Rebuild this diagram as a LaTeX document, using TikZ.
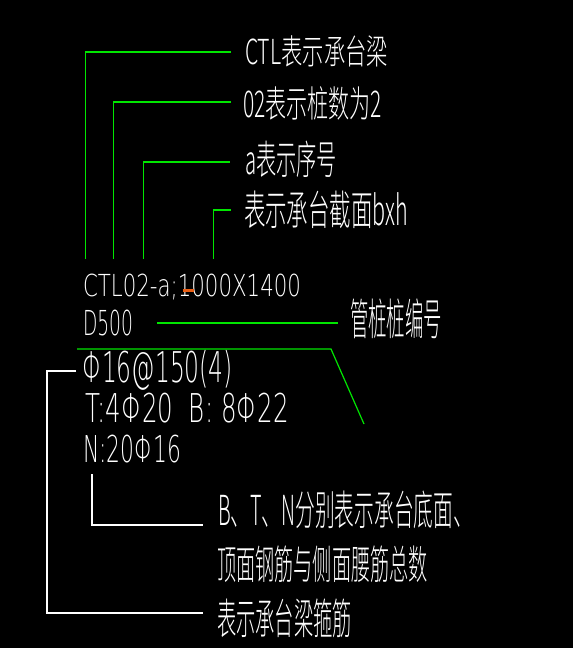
\documentclass[tikz,border=0pt]{standalone}
\usepackage{fontspec}
\usepackage{graphicx}
\IfFontExistsTF{Noto Sans CJK SC Light}
  {\setmainfont{Noto Sans CJK SC Light}}
  {\setmainfont{Noto Sans CJK SC}}
\IfFontExistsTF{DejaVu Sans ExtraLight}
  {\newfontfamily\latfont{DejaVu Sans ExtraLight}}
  {\newfontfamily\latfont{Noto Sans CJK SC}}
\definecolor{cadgreen}{RGB}{0,230,0}
\definecolor{cadorange}{RGB}{235,95,20}
\newcommand{\fitbox}[3]{\resizebox*{#1pt}{#2pt}{\latfont #3}}
\newcommand{\cjkfit}[3]{\resizebox*{#1pt}{#2pt}{\rule[-0.12em]{0pt}{1em}\smash{#3}}}
\begin{document}
\begin{tikzpicture}[x=1pt,y=-1pt,
  lbl/.style={anchor=west,inner sep=0pt,outer sep=0pt,text=white},
  gline/.style={draw=cadgreen,line width=1.2pt},
  wline/.style={draw=white,line width=1.2pt}]
\fill[black] (0,0) rectangle (573,648);
\useasboundingbox (0,0) rectangle (573,648);

% labels
\node[lbl] (t1) at (245,51.5) {\cjkfit{143}{34.5}{CTL表示承台梁}};
\node[lbl] (t2) at (243,104) {\cjkfit{139}{36.8}{02表示桩数为2}};
\node[lbl] (t3) at (245,159.5) {\cjkfit{92}{40}{a表示序号}};
\node[lbl] (t4) at (244,210) {\cjkfit{164}{41.4}{表示承台截面bxh}};
\node[lbl] (code) at (83,287) {\fitbox{218}{26}{CTL02-a;1000X1400}};
\node[lbl] (d500) at (83,323) {\fitbox{50}{26}{D500}};
\node[lbl] (gz) at (350,319) {\cjkfit{92}{43.7}{管桩桩编号}};
\node[lbl] (stir) at (82,370) {\fitbox{151}{40}{Φ16@150(4)}};
\node[lbl] (tb) at (85,408) {\fitbox{204}{30}{T:4Φ20\ \ B: 8Φ22}};
\node[lbl] (n) at (83,449) {\fitbox{98}{28}{N:20Φ16}};
\node[lbl] (e1) at (218,510) {\cjkfit{255}{41.4}{B、T、N分别表示承台底面、}};
\node[lbl] (e2) at (217,564.5) {\cjkfit{211}{40.2}{顶面钢筋与侧面腰筋总数}};
\node[lbl] (e3) at (217,618.5) {\cjkfit{135}{42.5}{表示承台梁箍筋}};

% orange mark
\fill[cadorange] (183,288.5) rectangle (194,291.5);

% green leaders
\coordinate (a1) at (231,52);
\coordinate (a2) at (231,102);
\coordinate (a3) at (230,162);
\coordinate (a4) at (231,210);
\draw[gline] (85.5,259) |- (a1);
\draw[gline] (113.5,259) |- (a2);
\draw[gline] (143.5,259) |- (a3);
\draw[gline] (213.5,259) |- (a4);
\coordinate (b1) at (157,323);
\coordinate (b2) at (338,323);
\draw[gline] (b1) -- (b2);
\coordinate (c1) at (77,349);
\coordinate (c2) at (331,349);
\coordinate (c3) at (364,424);
\draw[gline] (c1) -- (c2) -- (c3);

% white leaders
\coordinate (w1) at (76,371);
\coordinate (w2) at (203,613);
\draw[wline] (w1) -- (47,371) |- (w2);
\coordinate (v1) at (92,474);
\coordinate (v2) at (203,525);
\draw[wline] (v1) |- (v2);
\end{tikzpicture}
\end{document}
